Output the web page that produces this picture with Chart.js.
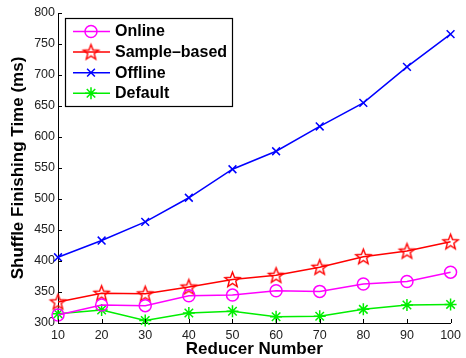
<!DOCTYPE html>
<html>
<head>
<meta charset="utf-8">
<script src="https://cdn.jsdelivr.net/npm/chart.js@4/dist/chart.umd.min.js"></script>
<style>
  html, body { margin: 0; padding: 0; background: #fff; }
  #wrap { width: 466px; height: 358px; }
</style>
</head>
<body>
<div id="wrap"><canvas id="c" width="466" height="358"></canvas></div>
<script>
// Reducer counts on the x axis
const reducers = [10, 20, 30, 40, 50, 60, 70, 80, 90, 100];

// Shuffle finishing time (ms) per scheme
const online      = [313, 329, 328, 344, 345, 352, 351, 363, 367, 382];
const sampleBased = [334, 348, 347, 358, 370, 377, 390, 407, 416, 431];
const offline     = [406, 433, 463, 502, 548, 577, 617, 655, 713, 766];
const defaults    = [315, 321, 304, 316, 319, 310, 311, 322, 329, 330];

const seriesNames = ['Online', 'Sample\u2013based', 'Offline', 'Default'];

// Axis ranges
const xTicks = { min: 10, max: 100, step: 10 };
const yTicks = { min: 300, max: 800, step: 50 };

const FONT = '"Liberation Sans", Arial, Helvetica, sans-serif';

// Five-pointed star outline used as a point style
function makePentagram(color, rOuter, rInner, lw) {
  const size = Math.ceil(rOuter * 2 + lw * 2 + 2);
  const cv = document.createElement('canvas');
  cv.width = size; cv.height = size;
  const g = cv.getContext('2d');
  const c = size / 2;
  g.beginPath();
  for (let i = 0; i < 10; i++) {
    const r = i % 2 === 0 ? rOuter : rInner;
    const a = -Math.PI / 2 + i * Math.PI / 5;
    const px = c + r * Math.cos(a), py = c + 0.5 + r * Math.sin(a);
    if (i === 0) g.moveTo(px, py); else g.lineTo(px, py);
  }
  g.closePath();
  g.strokeStyle = color;
  g.lineWidth = lw;
  g.lineJoin = 'miter';
  g.stroke();
  return cv;
}
const starImg = makePentagram('#ff0000', 8, 3.4, 1.4);

function pts(arr) { return reducers.map((x, i) => ({ x: x, y: arr[i] })); }

const datasets = [
  { label: seriesNames[0], data: pts(online), borderColor: '#ff00ff', pointStyle: 'circle', pointRadius: 6, pointBorderWidth: 1.5 },
  { label: seriesNames[1], data: pts(sampleBased), borderColor: '#ff0000', pointStyle: starImg, pointRadius: 8, pointBorderWidth: 1.5 },
  { label: seriesNames[2], data: pts(offline), borderColor: '#0000ff', pointStyle: 'crossRot', pointRadius: 5.5, pointBorderWidth: 1.5 },
  { label: seriesNames[3], data: pts(defaults), borderColor: '#00ee00', pointStyle: 'star', pointRadius: 6, pointBorderWidth: 1.5 }
].map(d => Object.assign({
  backgroundColor: 'rgba(0,0,0,0)',
  pointBackgroundColor: 'rgba(0,0,0,0)',
  pointBorderColor: d.borderColor,
  borderWidth: 1.5,
  tension: 0,
  fill: false,
  clip: false
}, d));

// Inward tick marks on the left and bottom axes
const tickMarks = {
  id: 'tickMarks',
  afterDatasetsDraw(chart) {
    const { ctx, chartArea: a, scales: { x, y } } = chart;
    ctx.save();
    ctx.strokeStyle = '#000';
    ctx.lineWidth = 1;
    const len = 4;
    y.ticks.forEach(t => {
      const py = Math.round(y.getPixelForValue(t.value)) + 0.5;
      ctx.beginPath(); ctx.moveTo(a.left, py); ctx.lineTo(a.left + len, py); ctx.stroke();
    });
    x.ticks.forEach(t => {
      const px = Math.round(x.getPixelForValue(t.value)) + 0.5;
      ctx.beginPath(); ctx.moveTo(px, a.bottom); ctx.lineTo(px, a.bottom - len); ctx.stroke();
    });
    ctx.restore();
  }
};

// Boxed legend with line samples and markers, inside the plot
function drawMarker(ctx, ds, cx, cy) {
  ctx.save();
  ctx.strokeStyle = ds.borderColor;
  ctx.lineWidth = ds.pointBorderWidth;
  const r = ds.pointRadius;
  const st = ds.pointStyle;
  ctx.beginPath();
  if (st === 'circle') {
    ctx.arc(cx, cy, r, 0, Math.PI * 2);
  } else if (st === 'crossRot') {
    const d = r * Math.SQRT1_2;
    ctx.moveTo(cx - d, cy - d); ctx.lineTo(cx + d, cy + d);
    ctx.moveTo(cx + d, cy - d); ctx.lineTo(cx - d, cy + d);
  } else if (st === 'star') {
    const d = r * Math.SQRT1_2;
    ctx.moveTo(cx, cy - r); ctx.lineTo(cx, cy + r);
    ctx.moveTo(cx - r, cy); ctx.lineTo(cx + r, cy);
    ctx.moveTo(cx - d, cy - d); ctx.lineTo(cx + d, cy + d);
    ctx.moveTo(cx + d, cy - d); ctx.lineTo(cx - d, cy + d);
  } else if (st instanceof HTMLCanvasElement) {
    ctx.drawImage(st, cx - st.width / 2, cy - st.height / 2);
  }
  ctx.stroke();
  ctx.restore();
}

const boxLegend = {
  id: 'boxLegend',
  afterDatasetsDraw(chart) {
    const { ctx, chartArea: a } = chart;
    const bx = a.left + 7, by = a.top + 5, bw = 167, bh = 88;
    ctx.save();
    ctx.fillStyle = '#fff';
    ctx.fillRect(bx, by, bw, bh);
    ctx.strokeStyle = '#000';
    ctx.lineWidth = 1.2;
    ctx.strokeRect(bx + 0.5, by + 0.5, bw, bh);
    ctx.font = 'bold 16px ' + FONT;
    ctx.textBaseline = 'middle';
    ctx.fillStyle = '#000';
    chart.data.datasets.forEach((ds, i) => {
      const cy = by + 13.5 + i * 20.6;
      ctx.strokeStyle = ds.borderColor;
      ctx.lineWidth = ds.borderWidth;
      ctx.beginPath(); ctx.moveTo(bx + 8, cy); ctx.lineTo(bx + 45, cy); ctx.stroke();
      drawMarker(ctx, ds, bx + 26, cy);
      ctx.fillStyle = '#000';
      ctx.fillText(ds.label, bx + 50, cy + 0.5);
    });
    ctx.restore();
  }
};

new Chart(document.getElementById('c'), {
  type: 'line',
  data: { datasets: datasets },
  options: {
    responsive: false,
    animation: false,
    devicePixelRatio: 1,
    layout: { padding: { left: 0, right: 13, top: 13, bottom: 0 } },
    plugins: { legend: { display: false }, tooltip: { enabled: false } },
    scales: {
      x: {
        type: 'linear',
        min: xTicks.min, max: xTicks.max,
        grid: { display: false, drawTicks: false, tickLength: 0 },
        border: { display: true, color: '#000', width: 1 },
        ticks: { stepSize: xTicks.step, color: '#222', padding: 5, font: { family: FONT, size: 12.5 }, maxRotation: 0 },
        title: { display: true, text: 'Reducer Number', color: '#000', font: { family: FONT, size: 17, weight: 'bold', lineHeight: 1 }, padding: { top: 0, bottom: 0 } },
        afterFit(s) { s.height = 35; }
      },
      y: {
        type: 'linear',
        min: yTicks.min, max: yTicks.max,
        grid: { display: false, drawTicks: false, tickLength: 0 },
        border: { display: true, color: '#000', width: 1 },
        ticks: { stepSize: yTicks.step, color: '#222', padding: 3, font: { family: FONT, size: 12.5 } },
        title: { display: true, text: 'Shuffle Finishing Time (ms)', color: '#000', font: { family: FONT, size: 17, weight: 'bold', lineHeight: 1 }, padding: { top: 9.5, bottom: 0 } },
        afterFit(s) { s.width = 58; }
      }
    }
  },
  plugins: [tickMarks, boxLegend]
});
</script>
</body>
</html>
